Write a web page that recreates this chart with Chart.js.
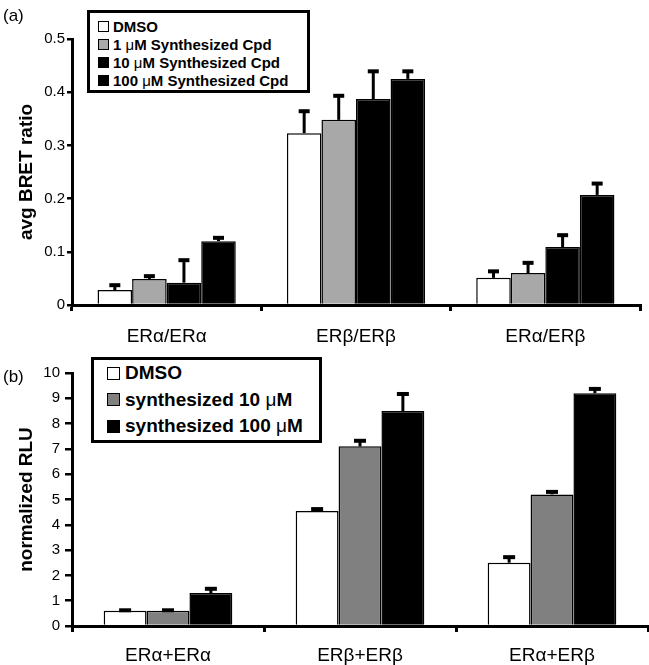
<!DOCTYPE html>
<html>
<head>
<meta charset="utf-8">
<script src="https://cdn.jsdelivr.net/npm/chart.js@4.4.0/dist/chart.umd.min.js"></script>
<style>
body { margin: 0; background: #fff; font-family: 'Liberation Sans', Arial, sans-serif; color: #000; }
#page { position: relative; width: 649px; height: 665px; overflow: hidden; }
canvas { position: absolute; left: 0; }
#chartA { top: 0; }
#chartB { top: 340px; }
.tag { position: absolute; left: 3px; font-size: 17px; line-height: 1; }
.legend { position: absolute; border: 3px solid #000; background: #fff; box-sizing: border-box; font-weight: bold; }
.legend .row { display: flex; align-items: center; white-space: nowrap; }
.legend .sw { border: 1px solid #000; box-sizing: border-box; flex: none; }
.mu { font-weight: normal; }
</style>
</head>
<body>
<div id="page">
  <canvas id="chartA" width="649" height="352"></canvas>
  <canvas id="chartB" width="649" height="325"></canvas>
  <div class="tag" style="top:7px">(a)</div>
  <div class="tag" style="top:368px">(b)</div>
  <div class="legend" id="legendA" style="left:87px;top:10px;width:223px;height:83px;padding:4px 0 0 8px;font-size:15px"></div>
  <div class="legend" id="legendB" style="left:91px;top:357px;width:231px;height:86px;padding:0 0 0 13px;font-size:19px"></div>
</div>
<script>
// panel (a) - BRET
const categoriesA = ['ERα/ERα', 'ERβ/ERβ', 'ERα/ERβ'];
const seriesA = ['DMSO', '1 μM Synthesized Cpd', '10 μM Synthesized Cpd', '100 μM Synthesized Cpd'];
const colorsA = ['#ffffff', '#a8a8a8', '#000000', '#000000'];
const dmsoA = [0.028, 0.323, 0.051];
const cpd1A = [0.049, 0.348, 0.060];
const cpd10A = [0.042, 0.387, 0.109];
const cpd100A = [0.120, 0.425, 0.207];
const dmsoErrA = [0.013, 0.045, 0.016];
const cpd1ErrA = [0.009, 0.049, 0.023];
const cpd10ErrA = [0.046, 0.056, 0.026];
const cpd100ErrA = [0.010, 0.018, 0.025];

// panel (b) - RLU
const categoriesB = ['ERα+ERα', 'ERβ+ERβ', 'ERα+ERβ'];
const seriesB = ['DMSO', 'synthesized 10 μM', 'synthesized 100 μM'];
const colorsB = ['#ffffff', '#808080', '#000000'];
const dmsoB = [0.6, 4.55, 2.5];
const syn10B = [0.6, 7.1, 5.2];
const syn100B = [1.3, 8.5, 9.2];
const dmsoErrB = [0.1, 0.15, 0.3];
const syn10ErrB = [0.1, 0.3, 0.18];
const syn100ErrB = [0.25, 0.75, 0.25];

const FONT = "'Liberation Sans', Arial, sans-serif";

// draws the upward error bars on top of each bar
const errorBars = {
    id: 'errorBars',
    afterDatasetsDraw(chart, args, opts) {
        const ctx = chart.ctx;
        const y = chart.scales.y;
        ctx.save();
        ctx.strokeStyle = '#000';
        ctx.fillStyle = '#000';
        chart.data.datasets.forEach((ds, i) => {
            chart.getDatasetMeta(i).data.forEach((bar, j) => {
                const top = y.getPixelForValue(ds.data[j] + ds.errors[j]);
                ctx.lineWidth = 3;
                ctx.beginPath();
                ctx.moveTo(bar.x, bar.y);
                ctx.lineTo(bar.x, top + 2);
                ctx.stroke();
                ctx.fillRect(bar.x - opts.cap / 2, top, opts.cap, 4);
            });
        });
        ctx.restore();
    }
};

function makeDatasets(names, colors, values, errors) {
    return names.map((name, i) => ({
        label: name,
        data: values[i],
        errors: errors[i],
        backgroundColor: colors[i],
        borderColor: '#000',
        borderWidth: 1.5,
        borderSkipped: 'bottom'
    }));
}

function makeChart(id, labels, datasets, opt) {
    return new Chart(document.getElementById(id), {
        type: 'bar',
        data: { labels: labels, datasets: datasets },
        plugins: [errorBars],
        options: {
            responsive: false,
            animation: false,
            categoryPercentage: opt.catPct,
            barPercentage: 1,
            layout: { padding: opt.padding },
            plugins: {
                legend: { display: false },
                tooltip: { enabled: false },
                errorBars: { cap: opt.cap }
            },
            scales: {
                x: {
                    afterFit: s => { s.height = opt.xHeight; },
                    border: { color: '#000', width: 3 },
                    grid: { drawOnChartArea: false, color: '#000', lineWidth: 3, tickLength: 6, offset: true },
                    ticks: { color: '#000', font: { family: FONT, size: 19 }, padding: opt.xPad, maxRotation: 0 }
                },
                y: {
                    min: 0,
                    max: opt.max,
                    afterFit: s => { s.width = 72; },
                    border: { color: '#000', width: 3 },
                    grid: { drawOnChartArea: false, color: '#000', lineWidth: 2.5, tickLength: opt.yTick },
                    ticks: { stepSize: opt.step, color: '#000', font: { family: FONT, size: 15 }, padding: opt.yPad },
                    title: {
                        display: true,
                        text: opt.title,
                        color: '#000',
                        font: { family: FONT, size: 19, weight: 'bold' },
                        padding: { top: 15, bottom: 0 }
                    }
                }
            }
        }
    });
}

makeChart('chartA', categoriesA,
    makeDatasets(seriesA, colorsA, [dmsoA, cpd1A, cpd10A, cpd100A], [dmsoErrA, cpd1ErrA, cpd10ErrA, cpd100ErrA]),
    { catPct: 0.73, max: 0.5, step: 0.1, title: 'avg BRET ratio', padding: { left: 0, right: 9, top: 39, bottom: 0 },
      xHeight: 47, xPad: 14, yTick: 5, yPad: 2, cap: 11 });

makeChart('chartB', categoriesB,
    makeDatasets(seriesB, colorsB, [dmsoB, syn10B, syn100B], [dmsoErrB, syn10ErrB, syn100ErrB]),
    { catPct: 0.67, max: 10, step: 1, title: 'normalized RLU', padding: { left: 0, right: 1, top: 33, bottom: 0 },
      xHeight: 39, xPad: 12, yTick: 7, yPad: 5, cap: 12 });

// legends built from the series names and colours
function buildLegend(id, names, colors, rowH, sw, gap) {
    const box = document.getElementById(id);
    names.forEach((name, i) => {
        const row = document.createElement('div');
        row.className = 'row';
        row.style.height = rowH + 'px';
        const s = document.createElement('span');
        s.className = 'sw';
        s.style.cssText = `width:${sw}px;height:${sw}px;background:${colors[i]};margin-right:${gap}px`;
        const t = document.createElement('span');
        t.innerHTML = name.replace('μ', '<span class="mu">μ</span>');
        row.appendChild(s);
        row.appendChild(t);
        box.appendChild(row);
    });
}
buildLegend('legendA', seriesA, colorsA, 18, 11, 4);
buildLegend('legendB', seriesB, colorsB, 26.5, 13, 5);
</script>
</body>
</html>
